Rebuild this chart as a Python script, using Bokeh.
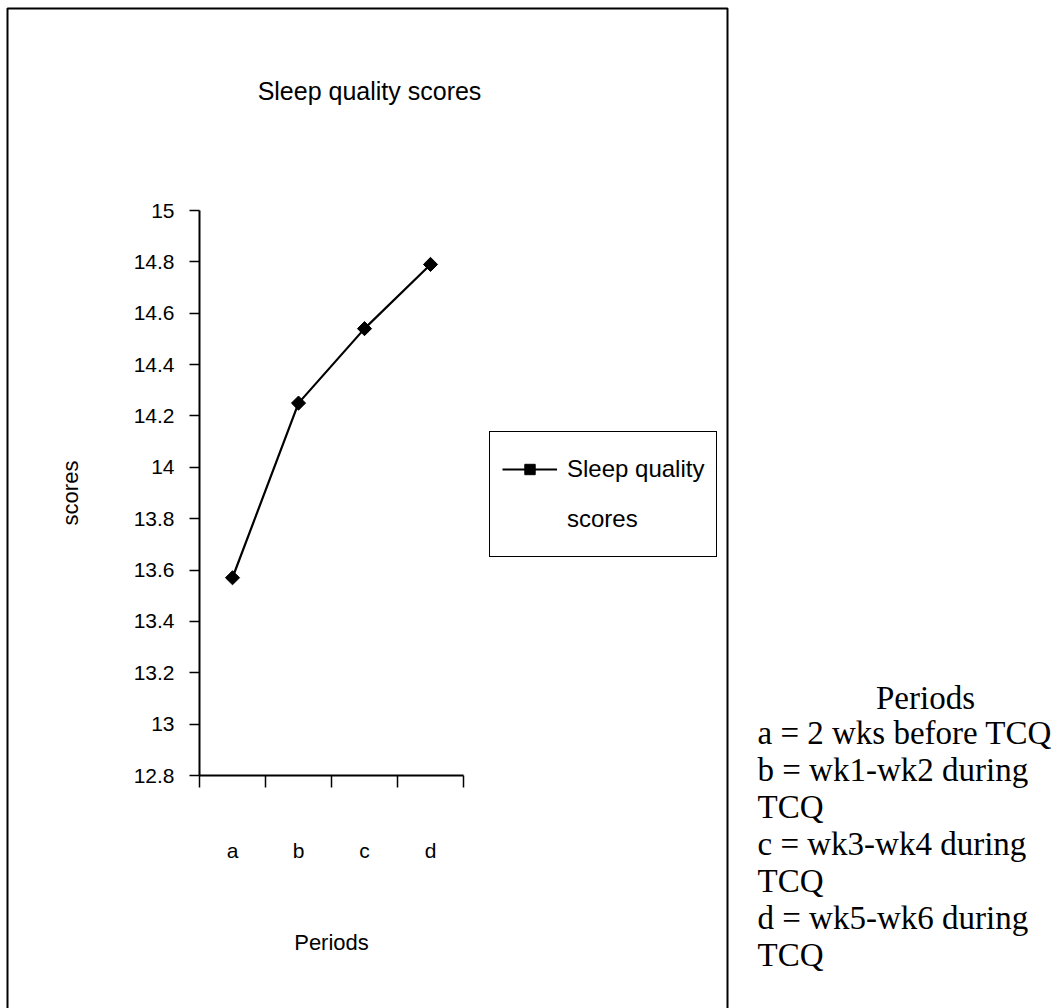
import math
from bokeh.plotting import figure
from bokeh.models import (Range1d, LinearAxis, FixedTicker, NumeralTickFormatter, Label,
                          Legend, LegendItem, BoxAnnotation, ColumnDataSource)
from bokeh.embed import file_html
from bokeh.resources import INLINE

# ---- data ----
periods = ["a", "b", "c", "d"]
scores = [13.57, 14.25, 14.54, 14.79]
y_ticks = [12.8, 13.0, 13.2, 13.4, 13.6, 13.8, 14.0, 14.2, 14.4, 14.6, 14.8, 15.0]
y_min, y_max = 12.8, 15.0
title_text = "Sleep quality scores"
legend_lines = ["Sleep quality", "scores"]
x_title = "Periods"
y_title = "scores"
notes_title = "Periods"
notes_lines = ["a = 2 wks before TCQ", "b = wk1-wk2 during", "TCQ",
               "c = wk3-wk4 during", "TCQ", "d = wk5-wk6 during", "TCQ"]

# category slots on a numeric axis (Excel-style: ticks between categories)
n = len(periods)
cat_pos = [i + 0.5 for i in range(n)]
cat_bounds = list(range(n + 1))

# ---- layout (canvas px): plot area edges ----
W, H = 1061, 1008
PL, PR, PT, PB = 199, 463, 210, 775

# the frame covers the whole canvas; ranges are extended so the plot area
# (axis bounds) lands on the canvas rectangle above
xs = (PR - PL) / n
ys = (PB - PT) / (y_max - y_min)
x_range = Range1d(0 - PL / xs, n + (W - PR) / xs)
y_range = Range1d(y_min - (H - PB) / ys, y_max + PT / ys)

def fx(x):
    return x

def fy(y):
    return H - y

SANS = "Liberation Sans"
SERIF = "Liberation Serif"

p = figure(width=W, height=H, x_range=x_range, y_range=y_range,
           output_backend="svg", toolbar_location=None,
           x_axis_location=None, y_axis_location=None, title=None, min_border=0)
p.outline_line_color = None
p.xgrid.visible = False
p.ygrid.visible = False
p.background_fill_color = "white"
p.border_fill_color = "white"

# y axis
yax = LinearAxis(fixed_location=0, bounds=(y_min, y_max),
                 ticker=FixedTicker(ticks=y_ticks, minor_ticks=[]),
                 formatter=NumeralTickFormatter(format="0.[0]"),
                 axis_label=y_title, axis_label_standoff=48,
                 axis_label_text_font=SANS, axis_label_text_font_size="22px",
                 axis_label_text_font_style="normal", axis_label_text_color="black",
                 major_label_text_font=SANS, major_label_text_font_size="21px",
                 major_label_text_color="black", major_label_standoff=15,
                 major_tick_out=10, major_tick_in=0, minor_tick_out=0, minor_tick_in=0,
                 axis_line_width=2, major_tick_line_width=1.5,
                 axis_line_color="black", major_tick_line_color="black")
p.add_layout(yax, "left")

# x axis line with boundary ticks
xb = LinearAxis(fixed_location=y_min, bounds=(0, n),
                ticker=FixedTicker(ticks=cat_bounds, minor_ticks=[]),
                major_label_text_font_size="0px", major_label_text_alpha=0,
                major_tick_out=12, major_tick_in=0, minor_tick_out=0, minor_tick_in=0,
                axis_line_width=2, major_tick_line_width=1.5,
                axis_line_color="black", major_tick_line_color="black")
p.add_layout(xb, "below")

# category labels + axis title
xax = LinearAxis(fixed_location=y_min, bounds=(0, n),
                 ticker=FixedTicker(ticks=cat_pos, minor_ticks=[]),
                 major_label_overrides={pos: name for pos, name in zip(cat_pos, periods)},
                 axis_line_color=None, major_tick_line_color=None,
                 major_tick_out=0, major_tick_in=0, minor_tick_out=0, minor_tick_in=0,
                 major_label_text_font=SANS, major_label_text_font_size="21px",
                 major_label_text_color="black", major_label_standoff=63,
                 axis_label=x_title, axis_label_standoff=65,
                 axis_label_text_font=SANS, axis_label_text_font_size="22px",
                 axis_label_text_font_style="normal", axis_label_text_color="black")
p.add_layout(xax, "below")

# data
src = ColumnDataSource(dict(x=cat_pos, period=periods, score=scores))
ln = p.line("x", "score", source=src, line_color="black", line_width=2.2)
pts = p.scatter("x", "score", source=src, marker="square", angle=math.pi / 4, size=10,
                fill_color="black", line_color="black")

# legend
legend = Legend(items=[LegendItem(label=legend_lines[0], renderers=[ln, pts]),
                       LegendItem(label=legend_lines[1], renderers=[])],
                location=(fx(489), fy(557)), margin=0, padding=12, spacing=0,
                glyph_width=55, glyph_height=26, label_height=50, label_standoff=10,
                label_text_font=SANS, label_text_font_size="24px", label_text_color="black",
                border_line_color="black", border_line_width=1.5, border_line_alpha=1.0,
                background_fill_color="white", background_fill_alpha=1.0)
p.add_layout(legend, "center")

# outer chart-area border
border = BoxAnnotation(left=fx(7), right=fx(727), top=fy(8), bottom=fy(1012),
                       left_units="screen", right_units="screen",
                       top_units="screen", bottom_units="screen",
                       fill_alpha=0, line_color="black", line_alpha=1.0, line_width=2)
p.add_layout(border)

# title
p.add_layout(Label(x=fx(369), y=fy(90), x_units="screen", y_units="screen",
                   text=title_text, text_align="center", text_baseline="middle",
                   text_font=SANS, text_font_size="25px", text_color="black"))

# notes block on the right
p.add_layout(Label(x=fx(925), y=fy(697), x_units="screen", y_units="screen",
                   text=notes_title, text_align="center", text_baseline="alphabetic",
                   text_font=SERIF, text_font_size="33px", text_color="black"))
for i, t in enumerate(notes_lines):
    p.add_layout(Label(x=fx(757), y=fy(732 + 37 * i), x_units="screen", y_units="screen",
                       text=t, text_align="left", text_baseline="alphabetic",
                       text_font=SERIF, text_font_size="33px", text_color="black"))

open("out.html", "w").write(file_html(p, INLINE))
